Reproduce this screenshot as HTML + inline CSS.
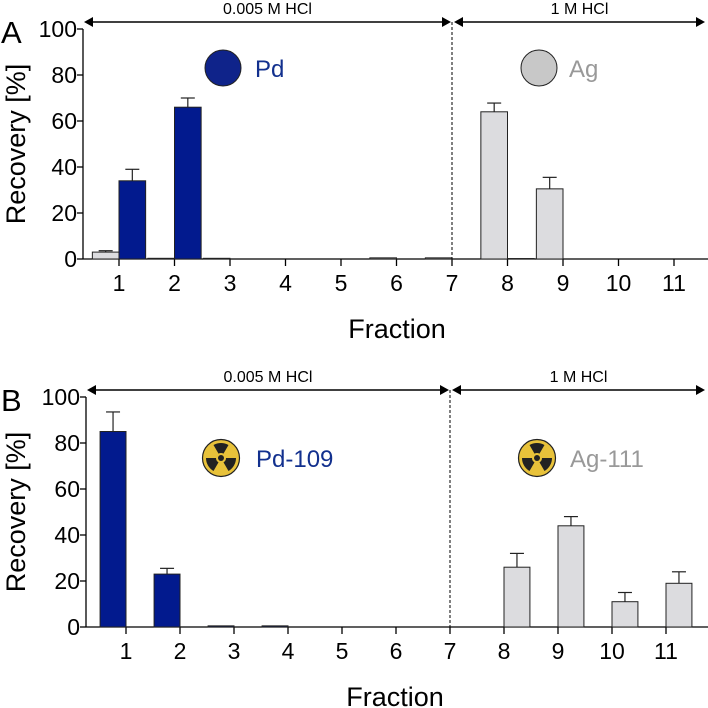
<!DOCTYPE html>
<html><head><meta charset="utf-8"><style>
body{margin:0;background:#fff}
svg{display:block;font-family:"Liberation Sans Narrow","Liberation Sans",Arial,sans-serif}
</style></head><body>
<svg id="c" width="708" height="708" viewBox="0 0 708 708"></svg>
<script>
const fractions=[1,2,3,4,5,6,7,8,9,10,11];
const yTicks=[0,20,40,60,80,100];
// Panel A (stable Pd / Ag)
const aPd=[34,66,0,0,0,0,0,0.2,0,0,0];
const aPdErr=[5,4,0,0,0,0,0,0,0,0,0];
const aAg=[3,0.3,0.3,0,0,0.5,0.5,64,30.5,0,0];
const aAgErr=[0.6,0,0,0,0,0.3,0.3,3.8,5,0,0];
// Panel B (Pd-109 / Ag-111)
const bPd=[85,23,0.5,0.5,0,0,0,0,0,0,0];
const bPdErr=[8.5,2.5,0.3,0.3,0,0,0,0,0,0,0];
const bAg=[0,0,0,0,0,0,0,26,44,11,19];
const bAgErr=[0,0,0,0,0,0,0,6,4,4,5];

const NS="http://www.w3.org/2000/svg";
const svg=document.getElementById('c');
function el(t,a,p){const e=document.createElementNS(NS,t);for(const k in a)e.setAttribute(k,a[k]);(p||svg).appendChild(e);return e;}
function txt(s,a,p){const e=el('text',a,p);e.textContent=s;return e;}
const BLUE="#021a8e",GRAY="#dcdcdf";

function panel(cfg){
  const g=el('g',{});
  
  
  const x=f=>cfg.x1+(f-1)*cfg.dx;
  const y=v=>cfg.y0-(v/100)*(cfg.y0-cfg.y100);
  const L=txt(cfg.letter,{x:1,y:cfg.y100+14,'font-size':31},g);
  
  const yt=txt('Recovery [%]',{x:0,y:0,'font-size':27,'text-anchor':'middle',transform:`translate(25,${(cfg.y0+cfg.y100)/2}) rotate(-90)`},g);
  
  el('line',{x1:cfg.ax,y1:cfg.y100,x2:cfg.ax,y2:cfg.y0,stroke:'#000','stroke-width':1.3},g);
  yTicks.forEach(t=>{
    el('line',{x1:cfg.ax-6,y1:y(t),x2:cfg.ax,y2:y(t),stroke:'#000','stroke-width':1.3},g);
    const tl=txt(t,{x:cfg.ax-6,y:y(t)+8,'font-size':23,'text-anchor':'end'},g);
    
  });
  el('line',{x1:cfg.ax,y1:cfg.y0,x2:708,y2:cfg.y0,stroke:'#000','stroke-width':1.3},g);
  fractions.forEach(f=>{
    el('line',{x1:x(f),y1:cfg.y0,x2:x(f),y2:cfg.y0+7,stroke:'#000','stroke-width':1.3},g);
    const tl=txt(f,{x:x(f),y:cfg.y0+32,'font-size':23,'text-anchor':'middle'},g);
    
  });
  const xt=txt('Fraction',{x:x(7)-55,y:cfg.y0+79,'font-size':27,'text-anchor':'middle'},g);
  
  const bw=cfg.dx*0.48;
  function series(vals,errs,color,side,nm){
    vals.forEach((v,i)=>{
      const f=fractions[i];
      const bx=side<0?x(f)-bw:x(f);
      if(v>0){
        const r=el('rect',{x:bx,y:y(v),width:bw,height:cfg.y0-y(v),fill:color,stroke:'#222','stroke-width':1},g);
        
      }
      if(errs[i]>0&&v>1){
        const cx=bx+bw/2;
        el('line',{x1:cx,y1:y(v),x2:cx,y2:y(v+errs[i]),stroke:'#222','stroke-width':1.2},g);
        el('line',{x1:cx-7,y1:y(v+errs[i]),x2:cx+7,y2:y(v+errs[i]),stroke:'#222','stroke-width':1.2},g);
      }
    });
  }
  series(cfg.ag,cfg.agErr,GRAY,cfg.agSide,'ag');
  series(cfg.pd,cfg.pdErr,BLUE,-cfg.agSide,'pd');
  el('line',{x1:x(7),y1:cfg.arrY,x2:x(7),y2:cfg.y0,stroke:'#000','stroke-width':1,'stroke-dasharray':'3,2'},g);
  function arrow(a,b,label,nm){
    el('line',{x1:a+6,y1:cfg.arrY,x2:b-6,y2:cfg.arrY,stroke:'#000','stroke-width':1.5},g);
    el('path',{d:`M${a},${cfg.arrY} l9,-5 v10z M${b},${cfg.arrY} l-9,-5 v10z`,fill:'#000'},g);
    const t=txt(label,{x:(a+b)/2,y:cfg.arrY-8,'font-size':16,'text-anchor':'middle'},g);
    
  }
  arrow(cfg.ax+1,x(7)-1,'0.005 M HCl','acid-label-dilute');
  arrow(x(7)+2,705,'1 M HCl','acid-label-conc');
  cfg.legend(g);
}
function radIcon(g,cx,cy,nm){
  const gg=el('g',{},g);
  
  el('circle',{cx,cy,r:18.5,fill:'#e8c23a',stroke:'#222','stroke-width':1.2},gg);
  for(let k=0;k<3;k++){
    const a0=(-90-30+k*120)*Math.PI/180,a1=(-90+30+k*120)*Math.PI/180,ri=5,ro=15;
    el('path',{d:`M${cx+ri*Math.cos(a0)},${cy+ri*Math.sin(a0)} L${cx+ro*Math.cos(a0)},${cy+ro*Math.sin(a0)} A${ro},${ro} 0 0 1 ${cx+ro*Math.cos(a1)},${cy+ro*Math.sin(a1)} L${cx+ri*Math.cos(a1)},${cy+ri*Math.sin(a1)} A${ri},${ri} 0 0 0 ${cx+ri*Math.cos(a0)},${cy+ri*Math.sin(a0)}Z`,fill:'#222'},gg);
  }
  el('circle',{cx,cy,r:3,fill:'#222'},gg);
}
panel({name:'panel-a',letter:'A',ax:83,x1:119,dx:55.5,y0:259,y100:29,arrY:22,
  pd:aPd,pdErr:aPdErr,ag:aAg,agErr:aAgErr,agSide:-1,
  legend:g=>{
    const c1=el('ellipse',{cx:223,cy:68,rx:18,ry:18,fill:'#0f238a',stroke:'#222','stroke-width':1},g);
    
    const t1=txt('Pd',{x:255,y:77,'font-size':24,fill:'#12308e'},g);
    
    const c2=el('ellipse',{cx:539,cy:68,rx:18,ry:18,fill:'#c8c8c8',stroke:'#222','stroke-width':1},g);
    
    const t2=txt('Ag',{x:569,y:77,'font-size':24,fill:'#999'},g);
    
  }});
panel({name:'panel-b',letter:'B',ax:86,x1:126,dx:54,y0:627,y100:397,arrY:390,
  pd:bPd,pdErr:bPdErr,ag:bAg,agErr:bAgErr,agSide:1,
  legend:g=>{
    radIcon(g,221,458,'pd109-legend-icon');
    const t1=txt('Pd-109',{x:256,y:467,'font-size':24,fill:'#12308e'},g);
    
    radIcon(g,537,458,'ag111-legend-icon');
    const t2=txt('Ag-111',{x:570,y:467,'font-size':24,fill:'#999'},g);
    
  }});
</script>
</body></html>
